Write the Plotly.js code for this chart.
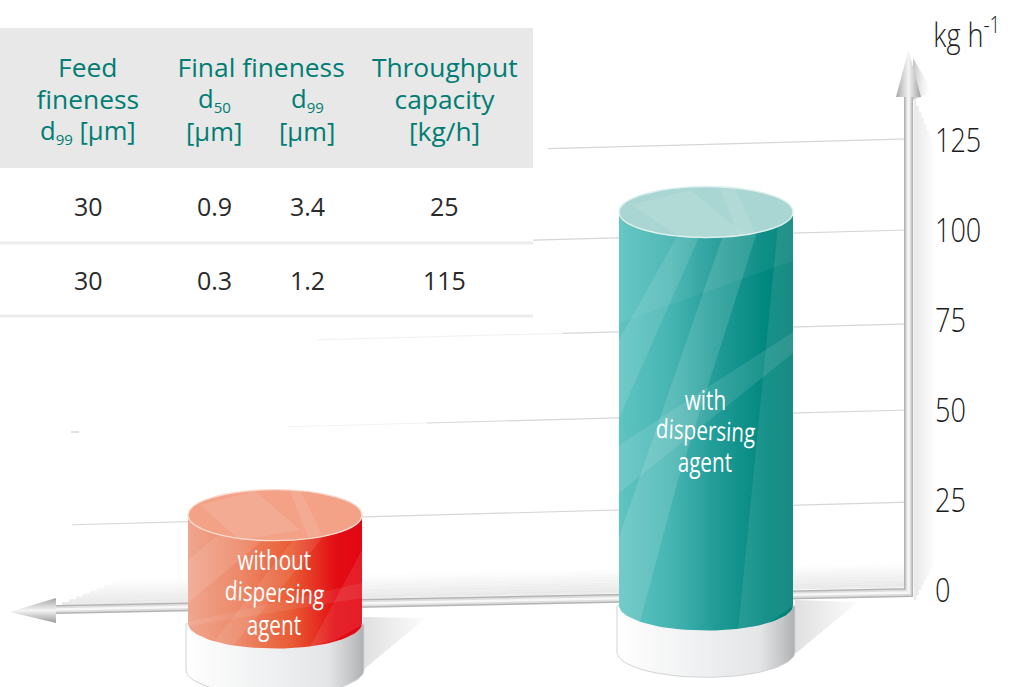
<!DOCTYPE html>
<html><head><meta charset="utf-8">
<script src="https://cdn.plot.ly/plotly-3.0.1.min.js"></script>
<style>html,body{margin:0;padding:0;background:#fff}#c{width:1018px;height:687px}</style>
</head><body><div id="c"></div>
<script>
// ---- values ----
const axisTicks = [0, 25, 50, 75, 100, 125];
const gridValues = [24.4, 50, 73.9, 100, 125.3];
const cylinderNames = ['without<br>dispersing<br>agent', 'with<br>dispersing<br>agent'];
const cylinderTop = [20.8, 105];
const cylinderFoot = [-9.2, -4.2];
const tableFeed = ['30', '30'];
const tableD50 = ['0.9', '0.3'];
const tableD99 = ['3.4', '1.2'];
const tableThroughput = ['25', '115'];

// ---- geometry / style config ----
const W = 1018, H = 687, R = 84;
const Y0 = 590, K = 3.6;                   // pixel of zero, pixels per unit
const py = p => (Y0 - p) / K;              // pixel row -> axis value
const cylX = [275, 706], cylRx = 87, cylRy = 25.5 / K, plateRx = 89, plateDrop = 46 / K;
const gridFaint = [72, 288, 316, 533, 548];
const gridStrong = [72, 427, 563, 533, 548];
const gridSlope = 0.027 / K;
const TEAL = '#007d73', SANS = '"Open Sans", "Noto Sans", sans-serif';
const axisX = 908.5;

function outline(cx, rx, ry, foot, top) {
  const xs = [], ys = [];
  for (let a = 0; a <= 180; a += 4) { const t = a * Math.PI / 180; xs.push(cx + rx * Math.cos(t)); ys.push(foot - ry * Math.sin(t)); }
  xs.push(cx - rx, cx + rx, cx + rx); ys.push(top, top, foot);
  return [xs, ys];
}
function poly(pts, color, grad) {
  return { x: pts.map(p => p[0]), y: pts.map(p => py(p[1])), mode: 'lines', line: { width: 0 }, fill: 'toself',
    ...(grad ? { fillgradient: grad } : { fillcolor: color }), hoverinfo: 'skip', showlegend: false };
}
function line(pts, color, width) {
  return { x: pts.map(p => p[0]), y: pts.map(p => py(p[1])), mode: 'lines', line: { color, width }, hoverinfo: 'skip', showlegend: false };
}
const fade = (type, a, b) => ({ type, colorscale: [[0, a], [1, b]] });
const traces = [];

// true bar marks underneath the shaded cylinder bodies
traces.push({ type: 'bar', x: cylX, y: cylinderTop.map((t, i) => t - cylinderFoot[i]), base: cylinderFoot, width: cylRx * 2,
  marker: { color: ['#ea6a48', '#2ba5a2'], line: { width: 0 } }, hoverinfo: 'skip', showlegend: false });

// gridlines: a faint lead-in, then the firm part
const gy = (v, x) => v - (axisX - x) * gridSlope;
gridValues.forEach((v, i) => {
  const a = [gridFaint[i], gridStrong[i]], b = [gridStrong[i], axisX];
  if (a[0] !== a[1]) traces.push({ x: a, y: a.map(x => gy(v, x)), mode: 'lines', line: { color: '#f3f3f3', width: 1.2 }, hoverinfo: 'skip', showlegend: false });
  traces.push({ x: b, y: b.map(x => gy(v, x)), mode: 'lines', line: { color: '#d6d6d6', width: 1.2 }, hoverinfo: 'skip', showlegend: false });
});
traces.push(line([[71, 432], [79, 432]], '#cfcfcf', 1.2));

// soft shadows
for (let k = 0; k < 9; k++) {
  const a = (0.24 - k * 0.027).toFixed(3);
  traces.push(line([[904, 586 - 2.6 * k], [62 + k * 7, 603.5 - 2.6 * k - k * 0.19]], `rgba(170,170,170,${a})`, 2.8));
}
for (let k = 0; k < 8; k++) {
  const a = (0.24 - k * 0.03).toFixed(3);
  traces.push(line([[915 + 2.6 * k, 100 + k * 6], [915 + 2.6 * k, 600 - k * 5]], `rgba(170,170,170,${a})`, 2.8));
}
traces.push(poly([[913, 58], [933, 92], [913, 100]], null, fade('horizontal', 'rgba(190,190,190,0.9)', 'rgba(255,255,255,0)')));
// plate shadows
traces.push(poly([[795, 600], [858, 602], [795, 654]], null, fade('horizontal', 'rgba(224,224,224,1)', 'rgba(252,252,252,1)')));
traces.push(poly([[363, 617], [426, 618], [363, 670]], null, fade('horizontal', 'rgba(224,224,224,1)', 'rgba(252,252,252,1)')));

// axis rails and arrowheads
const rail = [[axisX, 97], [axisX, 592.5], [56, 609.5]];
traces.push(line(rail, '#b4b4b4', 9));
traces.push(line(rail, '#dedede', 6));
traces.push(line(rail, '#f7f7f7', 2.4));
traces.push(poly([[axisX, 50], [921, 97], [896, 97]], null, { type: 'horizontal', colorscale: [[0, '#a8a8a8'], [0.5, '#f4f4f4'], [1, '#a0a0a0']] }));
traces.push(poly([[10, 612], [56, 598], [56, 623]], null, { type: 'vertical', colorscale: [[0, '#9a9a9a'], [0.5, '#f4f4f4'], [1, '#a4a4a4']] }));

// plates and bodies
const plateGrad = { type: 'horizontal', colorscale: [[0, '#ffffff'], [0.45, '#f0f1f2'], [0.8, '#e4e5e7'], [0.93, '#c4c5c7'], [1, '#aeafb1']] };
const bodyGrad = [
  { type: 'horizontal', colorscale: [[0, '#f0a68f'], [0.3, '#ed8868'], [0.6, '#e85a33'], [0.85, '#e30d14'], [1, '#e30613']] },
  { type: 'horizontal', colorscale: [[0, '#5fc4c2'], [0.3, '#46b5b2'], [0.55, '#229c98'], [0.85, '#00877e'], [1, '#008077']] }
];
cylX.forEach((cx, i) => {
  const f = cylinderFoot[i], t = cylinderTop[i];
  const [px, pyy] = outline(cx, plateRx, cylRy, f - plateDrop - 0.2, f - 0.2);
  traces.push({ x: px, y: pyy, mode: 'lines', line: { color: '#d2d3d5', width: 1 }, fill: 'toself', fillgradient: plateGrad, hoverinfo: 'skip', showlegend: false });
  const [bx, by] = outline(cx, cylRx, cylRy, f, t);
  traces.push({ x: bx, y: by, mode: 'lines', line: { width: 0 }, fill: 'toself', fillgradient: bodyGrad[i], hoverinfo: 'skip', showlegend: false });
});

// shapes: light streaks, lids, table
const shapes = [];
function streak(pts, a, col) {
  shapes.push({ type: 'path', xref: 'x', yref: 'y', layer: 'above', line: { width: 0 }, fillcolor: `rgba(${col || '255,255,255'},${a})`,
    path: 'M' + pts.map(p => p[0] + ',' + py(p[1])).join('L') + 'Z' });
}
// teal streaks
streak([[678, 235], [700, 235], [619, 418], [619, 340]], 0.11);
streak([[723, 235], [757, 232], [678, 480], [640, 622], [625, 617], [619, 612], [619, 537]], 0.13);
streak([[619, 212], [793, 212], [793, 261], [619, 323]], 0.05);
streak([[793, 332], [793, 353], [619, 493], [619, 445]], 0.10);
streak([[778, 225], [793, 215], [793, 606], [770, 622], [738, 632]], 0.09);
// red streaks
streak([[220, 533], [263, 540], [188, 603], [188, 560]], 0.10);
streak([[362, 583], [362, 598], [188, 626], [188, 622]], 0.08);
streak([[362, 550], [362, 625], [335, 640], [310, 647]], 0.09);
streak([[323, 537], [293, 540], [213, 643], [233, 646]], 0.09);

const lids = [['#f3a287', '#f9dccf'], ['#a9d6d3', '#dff1ef']];
const lidStreaks = [
  [[[200, 505], [255, 491], [300, 530], [240, 540]], [[290, 491], [300, 490], [322, 535], [308, 537]]],
  [[[632, 205], [690, 190], [745, 235], [680, 237]], [[720, 187], [735, 188], [755, 232], [738, 235]]]
];
cylX.forEach((cx, i) => {
  const t = cylinderTop[i];
  shapes.push({ type: 'circle', xref: 'x', yref: 'y', layer: 'above', x0: cx - cylRx, x1: cx + cylRx, y0: t - cylRy, y1: t + cylRy,
    fillcolor: lids[i][0], line: { color: lids[i][1], width: 1.4 } });
  lidStreaks[i].forEach(s => streak(s, 0.1));
});
// table
shapes.push({ type: 'rect', xref: 'x', yref: 'y', layer: 'above', x0: 0, x1: 533, y0: py(168), y1: py(28), fillcolor: '#e8e8e8', line: { width: 0 } });
[243, 316].forEach(p => shapes.push({ type: 'line', xref: 'x', yref: 'y', layer: 'above', x0: 0, x1: 533, y0: py(p), y1: py(p), line: { color: '#ececec', width: 3 } }));

// annotations
const ann = [];
function text(x, yp, t, size, color, weight, angle) {
  ann.push({ xref: 'x', yref: 'y', x, y: py(yp), text: t, showarrow: false, xanchor: 'center', yanchor: 'middle',
    font: { size, color, family: SANS, weight: weight || 400 }, textangle: angle || 0, align: 'center' });
}
const sub = s => `<sub><span style="font-size:15px">${s}</span></sub>`;
const SZ = 25.6, TW = 500;
text(88, 67, 'Feed', SZ, TEAL, TW); text(88, 99, 'fineness', SZ, TEAL, TW); text(88, 131, 'd' + sub(99) + ' [µm]', SZ, TEAL, TW);
text(261, 67, 'Final fineness', SZ, TEAL, TW);
text(214, 99, 'd' + sub(50), SZ, TEAL, TW); text(214, 131, '[µm]', SZ, TEAL, TW);
text(307, 99, 'd' + sub(99), SZ, TEAL, TW); text(307, 131, '[µm]', SZ, TEAL, TW);
text(444, 67, 'Throughput', SZ, TEAL, TW); text(444, 99, 'capacity', SZ, TEAL, TW); text(444, 131, '[kg/h]', SZ, TEAL, TW);
const headerLabels = ['Feed', 'fineness', 'Final fineness', 'Throughput', 'capacity', '[kg/h]'];
const rows = [206, 280];
rows.forEach((p, r) => {
  text(88, p, tableFeed[r], 25, '#2a2a2a');
  text(214, p, tableD50[r], 25, '#2a2a2a');
  text(307, p, tableD99[r], 25, '#2a2a2a');
  text(444, p, tableThroughput[r], 25, '#2a2a2a');
});
const nameRows = [[560, 592, 625], [400, 430, 462]];
const narrowLabels = [];
cylX.forEach((cx, i) => {
  cylinderNames[i].split('<br>').forEach((w, k) => { narrowLabels.push(w); text(cx - 1, nameRows[i][k], w, 26.5, '#fff', 400, k === 1 ? 2.5 : 0); });
});
ann.push({ xref: 'paper', yref: 'y', x: 967 / (W - R), y: py(32), text: 'kg h<sup>-1</sup>', showarrow: false, xanchor: 'center', yanchor: 'middle',
  font: { size: 33, color: '#222', family: SANS, weight: 300 } });

const layout = {
  width: W, height: H, margin: { l: 0, r: R, t: 0, b: 0, pad: 0 }, paper_bgcolor: '#fff', plot_bgcolor: '#fff',
  showlegend: false, barmode: 'overlay', hovermode: false,
  xaxis: { range: [0, W - R], visible: false, fixedrange: true },
  yaxis: { range: [py(H), py(0)], side: 'right', tickmode: 'array', tickvals: axisTicks, ticktext: axisTicks.map(String),
    showgrid: false, zeroline: false, showline: false, ticks: '', fixedrange: true, ticklabelstandoff: 0,
    tickfont: { family: SANS, size: 33, color: '#1c1c1c', weight: 300 } },
  shapes, annotations: ann
};
Plotly.newPlot('c', traces, layout, { displayModeBar: false, staticPlot: true }).then(gd => {
  // the reference lettering is condensed: narrow the light-weight labels, glyphs included
  const squeeze = (el, f) => {
    const len = el.getComputedTextLength();
    el.setAttribute('textLength', (len * f).toFixed(1));
    el.setAttribute('lengthAdjust', 'spacingAndGlyphs');
  };
  gd.querySelectorAll('.ytick text').forEach(el => squeeze(el, 0.82));
  gd.querySelectorAll('.annotation-text').forEach(el => {
    const s = el.textContent;
    if (narrowLabels.includes(s)) squeeze(el, 0.78);
    if (s.startsWith('kg h')) squeeze(el, 0.82);
    if (headerLabels.includes(s)) squeeze(el, 1.03);
  });
});
</script></body></html>
